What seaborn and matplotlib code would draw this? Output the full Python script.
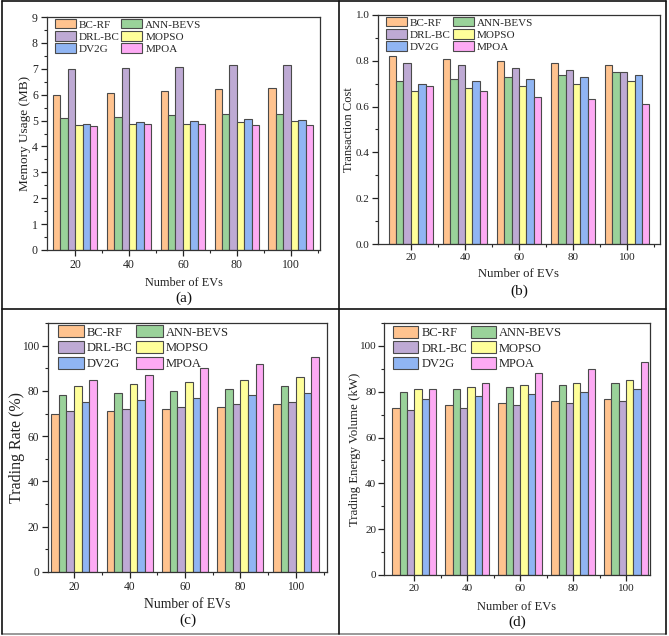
import matplotlib
matplotlib.use("Agg")
import matplotlib.pyplot as plt
from matplotlib.lines import Line2D
from matplotlib.ticker import MultipleLocator, FixedLocator
import seaborn as sns
import pandas as pd

# ---------------- data ----------------
evs = ["20", "40", "60", "80", "100"]
methods = ["BC-RF", "ANN-BEVS", "DRL-BC", "MOPSO", "DV2G", "MPOA"]
colors = ["#FFC38F", "#9AD29A", "#BEAAD4", "#FFFF9A", "#90B5F3", "#FDAAF4"]

memory = {
    "BC-RF":    [6.00, 6.08, 6.14, 6.20, 6.24],
    "ANN-BEVS": [5.08, 5.15, 5.20, 5.24, 5.27],
    "DRL-BC":   [7.00, 7.04, 7.08, 7.13, 7.16],
    "MOPSO":    [4.81, 4.85, 4.88, 4.95, 4.97],
    "DV2G":     [4.88, 4.96, 5.00, 5.05, 5.02],
    "MPOA":     [4.78, 4.88, 4.85, 4.82, 4.81],
}
cost = {
    "BC-RF":    [0.82, 0.81, 0.80, 0.79, 0.78],
    "ANN-BEVS": [0.71, 0.72, 0.73, 0.74, 0.75],
    "DRL-BC":   [0.79, 0.78, 0.77, 0.76, 0.75],
    "MOPSO":    [0.67, 0.68, 0.69, 0.70, 0.71],
    "DV2G":     [0.70, 0.71, 0.72, 0.73, 0.74],
    "MPOA":     [0.69, 0.67, 0.64, 0.635, 0.61],
}
rate = {
    "BC-RF":    [70, 71, 72, 73, 74],
    "ANN-BEVS": [78, 79, 80, 81, 82],
    "DRL-BC":   [71, 72, 73, 74, 75],
    "MOPSO":    [82, 83, 84, 85, 86],
    "DV2G":     [75, 76, 77, 78, 79],
    "MPOA":     [85, 87, 90, 92, 95],
}
volume = {
    "BC-RF":    [73, 74, 75, 76, 77],
    "ANN-BEVS": [80, 81, 82, 83, 84],
    "DRL-BC":   [72, 73, 74, 75, 76],
    "MOPSO":    [81, 82, 83, 84, 85],
    "DV2G":     [77, 78, 79, 80, 81],
    "MPOA":     [81, 84, 88, 90, 93],
}

sns.set_style("ticks")
plt.rcParams["font.family"] = ["Liberation Serif", "DejaVu Serif"]

fig = plt.figure(figsize=(6.69, 6.36), dpi=100)
W, H = 669.0, 636.0

def frac(l, t, r, b):
    return [l / W, 1 - b / H, (r - l) / W, (b - t) / H]

panels = [
    dict(data=memory, ylabel="Memory Usage (MB)", ylim=(0, 9), major=1, minor=0.5,
         fmt="{:.0f}", box=(47, 17, 320, 250), xlim=(-0.52, 4.54), cap="(a)",
         xl_y=283, cap_y=298, yl_x=25, yl_fs=9.5, xl_fs=8.8, tk_fs=8.5, pad=2.5,
         leg_fs=8, leg=(0.025, 0.995), hl=1.9, hh=0.9, ls=0.15, cs=0.15),
    dict(data=cost, ylabel="Transaction Cost", ylim=(0, 1.0), major=0.2, minor=0.1,
         fmt="{:.1f}", box=(378, 15, 660, 244), xlim=(-0.61, 4.61), cap="(b)",
         xl_y=274, cap_y=291, yl_x=349, yl_fs=9, xl_fs=9.2, tk_fs=8.0, pad=2.0,
         leg_fs=8, leg=(0.025, 0.995), hl=1.9, hh=0.9, ls=0.15, cs=0.2),
    dict(data=rate, ylabel="Trading Rate (%)", ylim=(0, 110), major=20, minor=10,
         fmt="{:.0f}", box=(48, 323, 327, 572), xlim=(-0.47, 4.56), cap="(c)",
         xl_y=604, cap_y=620, yl_x=17, yl_fs=11.5, xl_fs=9.8, tk_fs=8.3, pad=2.5,
         leg_fs=9, leg=(0.03, 0.995), hl=2.1, hh=1.1, ls=0.2, cs=0.3),
    dict(data=volume, ylabel="Trading Energy Volume (kW)", ylim=(0, 110), major=20, minor=10,
         fmt="{:.0f}", box=(384, 323, 650, 575), xlim=(-0.57, 4.45), cap="(d)",
         xl_y=607, cap_y=622, yl_x=355, yl_fs=9.3, xl_fs=9, tk_fs=8.0, pad=1.5,
         leg_fs=9, leg=(0.03, 0.995), hl=2.0, hh=1.1, ls=0.2, cs=0.3),
]

for p in panels:
    rows = []
    for m in methods:
        for e, v in zip(evs, p["data"][m]):
            rows.append({"EVs": e, "Method": m, "Value": v})
    df = pd.DataFrame(rows)
    ax = fig.add_axes(frac(*p["box"]))
    sns.barplot(data=df, x="EVs", y="Value", hue="Method", order=evs, hue_order=methods,
                palette=colors, width=0.83, edgecolor="#4a4a4a", linewidth=0.8,
                saturation=1, ax=ax, errorbar=None)
    ax.set_xlim(*p["xlim"])
    ax.set_ylim(*p["ylim"])
    ax.yaxis.set_major_locator(MultipleLocator(p["major"]))
    ax.yaxis.set_minor_locator(MultipleLocator(p["minor"]))
    ax.xaxis.set_minor_locator(FixedLocator([0.5, 1.5, 2.5, 3.5, 4.5]))
    ax.set_yticks(ax.get_yticks())
    ax.set_yticklabels([p["fmt"].format(t) for t in ax.get_yticks()])
    ax.set_ylim(*p["ylim"])
    ax.tick_params(axis="both", which="major", direction="out", length=4, width=0.9,
                   labelsize=p["tk_fs"], colors="#222222", pad=p["pad"])
    ax.tick_params(axis="x", which="major", pad=2.5)
    ax.tick_params(axis="both", which="minor", direction="out", length=2.5, width=0.8)
    for s in ax.spines.values():
        s.set_visible(True)
        s.set_color("#333333")
        s.set_linewidth(0.9)
    ax.set_xlabel("")
    ax.set_ylabel(p["ylabel"], fontsize=p["yl_fs"], color="#222222")
    l, t, r, b = p["box"]
    ax.yaxis.set_label_coords((p["yl_x"] - l) / (r - l), 0.5)
    ax.yaxis.label.set_va("center")

    handles, labels = ax.get_legend_handles_labels()
    idx = [0, 2, 4, 1, 3, 5]
    ax.legend([handles[i] for i in idx], [labels[i] for i in idx], ncol=2,
              loc="upper left", bbox_to_anchor=p["leg"], frameon=False,
              fontsize=p["leg_fs"], handlelength=p["hl"], handleheight=p["hh"],
              labelspacing=p["ls"], handletextpad=0.25, columnspacing=p["cs"],
              borderaxespad=0.0, borderpad=0.1)

    cx = (l + r) / 2 / W
    fig.text(cx, 1 - p["xl_y"] / H, "Number of EVs", ha="center", va="center",
             fontsize=p["xl_fs"], color="#222222")
    fig.text(cx, 1 - p["cap_y"] / H, p["cap"], ha="center", va="center",
             fontsize=11, color="#111111")

# panel frame lines
def fline(x0, y0, x1, y1, lw=1.2, c="#111111"):
    fig.add_artist(Line2D([x0 / W, x1 / W], [1 - y0 / H, 1 - y1 / H],
                          transform=fig.transFigure, color=c, lw=lw))

fline(2, 1, 666, 1)
fline(2, 634, 666, 634, c="#888888")
fline(2, 1, 2, 634)
fline(666, 1, 666, 634)
fline(339, 1, 339, 634)
fline(2, 309, 666, 309)

fig.savefig("out.png", dpi=100)
